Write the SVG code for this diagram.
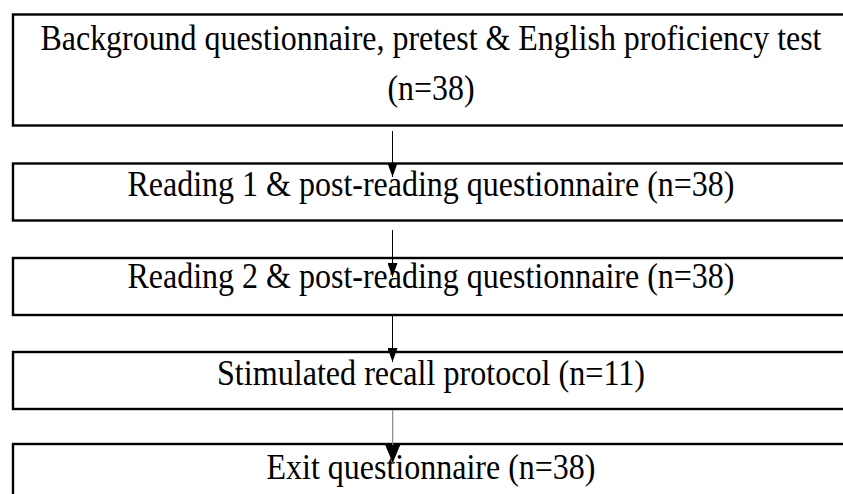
<svg xmlns="http://www.w3.org/2000/svg" width="843" height="494" viewBox="0 0 843 494">
<style>
.box{fill:#fff;stroke:#000;stroke-width:2.4}
.t{font-family:"Liberation Serif","Times New Roman",serif;font-size:35px;fill:#000;text-anchor:middle}
.c{stroke:#000;stroke-width:1}
</style>
<defs>
<marker id="ah" markerWidth="14" markerHeight="10" refX="14" refY="5" orient="auto" markerUnits="userSpaceOnUse">
<path d="M0,0 L14,5 L0,10 Z" fill="#000"/>
</marker>
<marker id="ah2" markerWidth="18" markerHeight="15" refX="18" refY="7.5" orient="auto" markerUnits="userSpaceOnUse">
<path d="M0,0 L18,7.5 L0,15 Z" fill="#000"/>
</marker>
</defs>
<rect width="843" height="494" fill="#fff"/>
<g id="n1">
<rect class="box" x="13" y="14.5" width="840" height="111"/>
<text class="t" x="431" y="50" textLength="781" lengthAdjust="spacingAndGlyphs">Background questionnaire, pretest &amp; English proficiency test</text>
<text class="t" x="431" y="100" textLength="87" lengthAdjust="spacingAndGlyphs">(n=38)</text>
</g>
<g id="n2">
<rect class="box" x="13" y="163.5" width="840" height="57"/>
<text class="t" x="431" y="196" textLength="607" lengthAdjust="spacingAndGlyphs">Reading 1 &amp; post-reading questionnaire (n=38)</text>
</g>
<g id="n3">
<rect class="box" x="13" y="258" width="840" height="57"/>
<text class="t" x="431" y="288" textLength="607" lengthAdjust="spacingAndGlyphs">Reading 2 &amp; post-reading questionnaire (n=38)</text>
</g>
<g id="n4">
<rect class="box" x="13" y="352" width="840" height="57"/>
<text class="t" x="431" y="385" textLength="428" lengthAdjust="spacingAndGlyphs">Stimulated recall protocol (n=11)</text>
</g>
<g id="n5">
<rect class="box" x="13" y="444" width="840" height="70"/>
<text class="t" x="431" y="479" textLength="329" lengthAdjust="spacingAndGlyphs">Exit questionnaire (n=38)</text>
</g>
<g id="connectors">
<line class="c" x1="392.5" y1="131" x2="392.5" y2="177" marker-end="url(#ah)"/>
<line class="c" x1="392.5" y1="230" x2="392.5" y2="277" marker-end="url(#ah)"/>
<line class="c" x1="392.5" y1="315" x2="392.5" y2="362" marker-end="url(#ah)"/>
<line x1="392.7" y1="410" x2="392.7" y2="463" stroke="#888" stroke-width="1.2" marker-end="url(#ah2)"/>
</g>
</svg>
